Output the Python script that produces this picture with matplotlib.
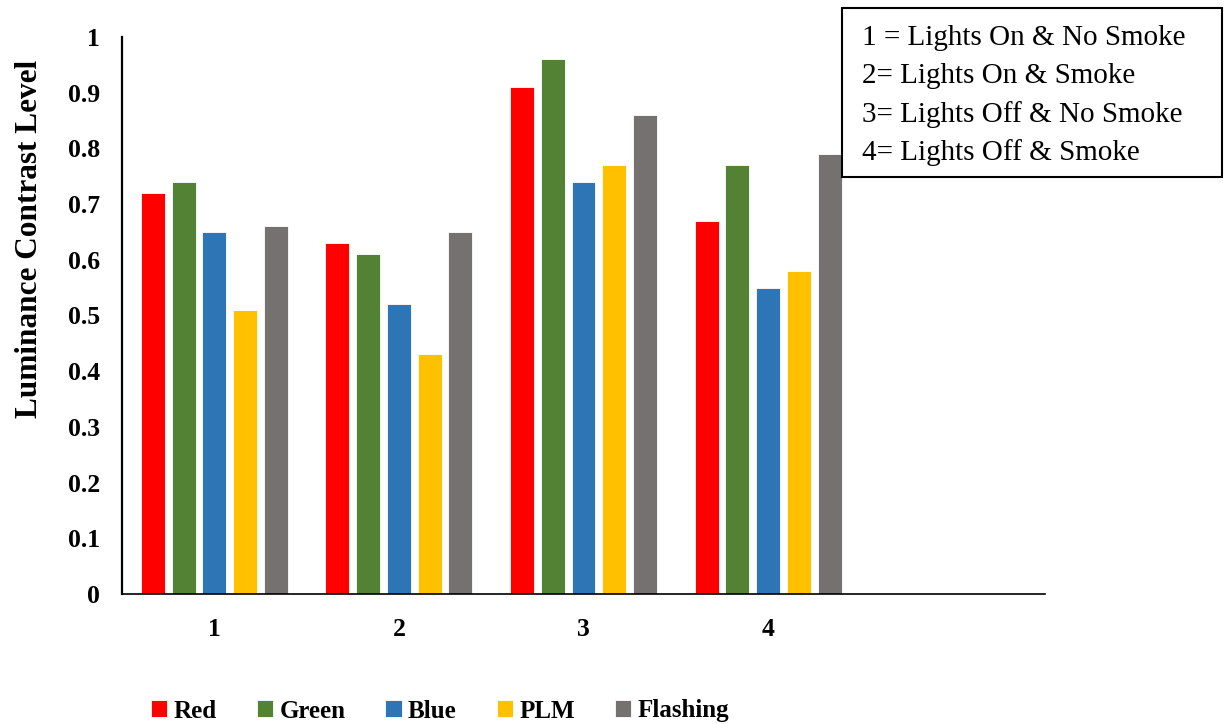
import numpy as np
import matplotlib
matplotlib.use("Agg")
import matplotlib.pyplot as plt
from matplotlib.patches import Rectangle

plt.rcParams['font.family'] = ['Liberation Serif', 'DejaVu Serif']

# data
groups = ["1", "2", "3", "4", ""]
series = ["Red", "Green", "Blue", "PLM", "Flashing"]
red = [0.72, 0.63, 0.91, 0.67]
green = [0.74, 0.61, 0.96, 0.77]
blue = [0.65, 0.52, 0.74, 0.55]
plm = [0.51, 0.43, 0.77, 0.58]
flashing = [0.66, 0.65, 0.86, 0.79]
colors = ["#FF0000", "#548235", "#2E75B6", "#FFC000", "#767171"]
conditions = ["1 = Lights On & No Smoke", "2= Lights On & Smoke",
              "3= Lights Off & No Smoke", "4= Lights Off & Smoke"]

fig = plt.figure(figsize=(12.25, 7.24), dpi=100)
ax = fig.add_axes([122 / 1225, 1 - 594 / 724, (1045 - 122) / 1225, (594 - 37) / 724])

x = np.arange(len(red))
step = 0.1667
width = 0.13
handles = []
for i, (name, vals) in enumerate(zip(series, [red, green, blue, plm, flashing])):
    b = ax.bar(x + (i - 2) * step, vals, width, color=colors[i], edgecolor='white',
               linewidth=0.6, label=name)
    handles.append(b)

ax.set_xlim(-0.5, 4.5)
ax.set_ylim(0, 1)
ax.set_xticks(np.arange(len(groups)))
ax.set_xticklabels(groups, fontweight='bold', fontsize=18.5)
ax.set_yticks(np.arange(0, 1.01, 0.1))
ax.set_yticklabels(["0"] + ["%.1f" % v for v in np.arange(0.1, 0.95, 0.1)] + ["1"],
                   fontweight='bold', fontsize=18.5)
ax.tick_params(axis='x', length=0, pad=17)
ax.tick_params(axis='y', length=0, pad=16)
for s in ['top', 'right']:
    ax.spines[s].set_visible(False)
ax.spines['left'].set_linewidth(1.6)
ax.spines['bottom'].set_linewidth(1.2)
# y label sits above the axis centre in the reference
fig.text(30 / 1225, 1 - 239 / 724, "Luminance Contrast Level", fontweight='bold',
         fontsize=22.5, rotation=90, ha='center', va='center')

# condition key box, top right
fig.patches.append(Rectangle((842 / 1225, 1 - 177 / 724), (1222 - 842) / 1225, (177 - 8) / 724,
                             transform=fig.transFigure, fill=True, facecolor='white',
                             edgecolor='black', linewidth=1.5, zorder=5))
for k, txt in enumerate(conditions):
    fig.text(862 / 1225, 1 - (38 + 38.3 * k) / 724, txt, fontsize=21, va='center',
             ha='left', zorder=6)

fig.legend(handles=handles, labels=series, loc='center', ncol=5,
           bbox_to_anchor=(440 / 1225, 1 - 711 / 724), frameon=False,
           prop={'weight': 'bold', 'size': 18}, handlelength=0.65, handleheight=0.65,
           handletextpad=0.25, columnspacing=1.6, borderaxespad=0)

fig.savefig("out.png", dpi=100)
